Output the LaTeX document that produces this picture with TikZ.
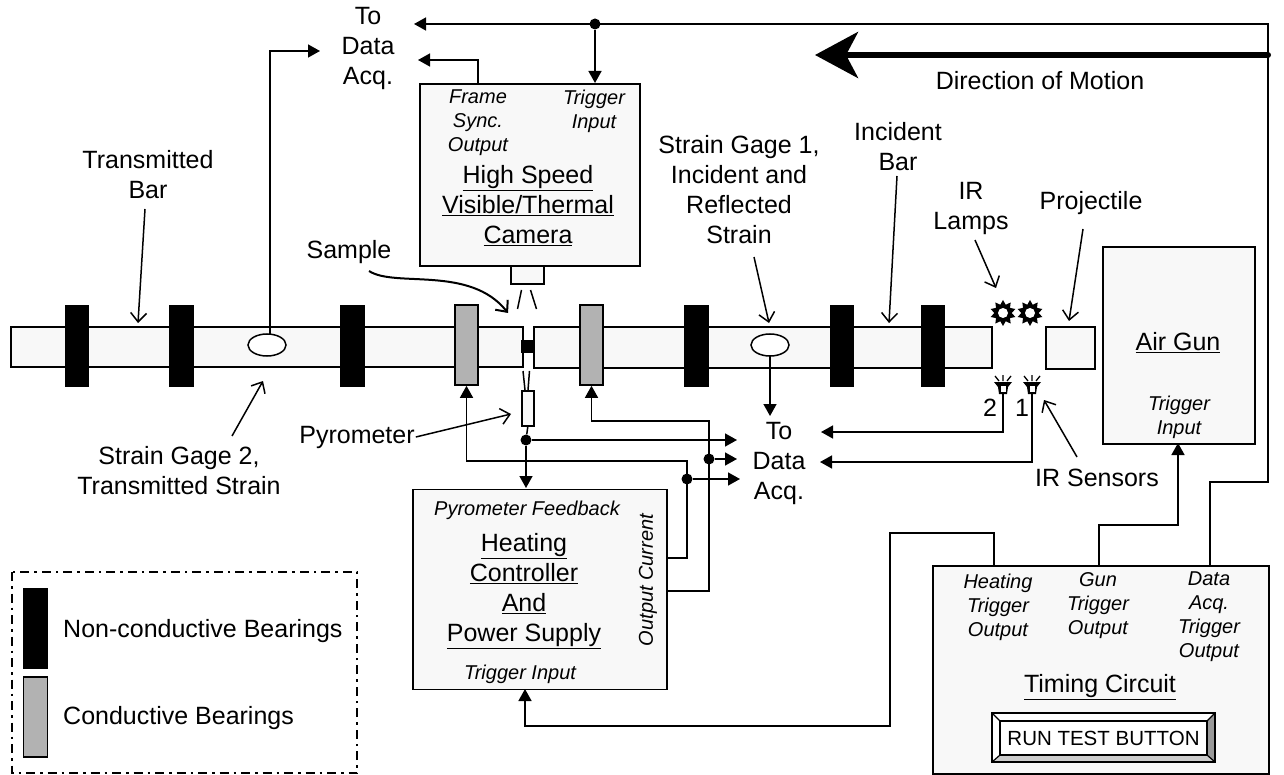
\documentclass[tikz,border=0pt]{standalone}
\usepackage{fontspec}
\setmainfont{Liberation Sans}
\usetikzlibrary{calc, arrows.meta, shapes.geometric}
\definecolor{panelFill}{RGB}{248, 248, 248}
\definecolor{condGray}{RGB}{178, 178, 178}
\definecolor{bevelDark}{RGB}{153, 153, 153}
\definecolor{bevelLight}{RGB}{204, 204, 204}

\tikzset{
  txt/.style={align=center, inner sep=1pt, font=\fontsize{25}{30}\selectfont},
  noteit/.style={align=center, inner sep=1pt, font=\fontsize{20}{24}\selectfont\itshape},
  panel/.style={draw, line width=1.6pt, fill=panelFill, anchor=north west, inner sep=0pt},
  ncbearing/.style={fill=black, minimum width=24.5pt, minimum height=81pt, inner sep=0pt},
  cbearing/.style={draw, line width=1.6pt, fill=condGray, minimum width=23pt, minimum height=80pt, inner sep=0pt},
  wire/.style={line width=1.5pt},
  wirearrow/.style={wire, -{Triangle[length=12pt,width=13pt]}},
  callout/.style={line width=1.5pt, -{Straight Barb[length=9pt,width=16pt]}},
  dot/.style={circle, fill=black, minimum size=11pt, inner sep=0pt},
}

\begin{document}
\begin{tikzpicture}[x=1pt, y=-1pt]
  \useasboundingbox (0,0) rectangle (1284,775);

  % bars
  \node[panel, minimum width=512pt, minimum height=40pt] (transBar) at (10,326) {};
  \node[panel, minimum width=458pt, minimum height=41pt] (incBar) at (533,326) {};
  \node[panel, minimum width=49pt, minimum height=42pt] (projectile) at (1045,326) {};
  \node[fill=black, minimum width=13pt, minimum height=13pt, inner sep=0pt] (sample) at (527,346) {};
  \foreach \bx/\bname in {76.75/ncA, 181.5/ncB, 352.25/ncC, 696.25/ncD, 842/ncE, 933/ncF}
    \node[ncbearing] (\bname) at (\bx,346) {};
  \node[cbearing] (condA) at (466.5,345) {};
  \node[cbearing] (condB) at (591.5,345) {};
  \draw[wire, fill=white] (267,345) ellipse (19 and 11);
  \draw[wire, fill=white] (770,345) ellipse (19 and 11);
  \coordinate (gageA) at (270,334);
  \coordinate (gageB) at (770,356);

  % boxes
  \node[panel, minimum width=220pt, minimum height=182pt] (camera) at (419,83) {};
  \node[panel, minimum width=33pt, minimum height=18pt] (lens) at (510,265) {};
  \node[panel, minimum width=12pt, minimum height=35pt] (pyro) at (521,390) {};
  \node[panel, minimum width=254pt, minimum height=200pt] (heater) at (412,488.5) {};
  \node[panel, minimum width=152pt, minimum height=197pt] (airGun) at (1102,246) {};
  \node[panel, minimum width=336pt, minimum height=208pt] (timing) at (932,565) {};

  % view lines
  \coordinate (viewA) at (521.5,290);
  \coordinate (viewB) at (517.5,309);
  \coordinate (viewC) at (530.5,290);
  \coordinate (viewD) at (536.5,309);
  \coordinate (viewE) at (523,371);
  \coordinate (viewF) at (525,390);
  \coordinate (viewG) at (529.5,371);
  \coordinate (viewH) at (528,390);
  \draw[wire] (viewA) -- (viewB);
  \draw[wire] (viewC) -- (viewD);
  \draw[wire] (viewE) -- (viewF);
  \draw[wire] (viewG) -- (viewH);

  % lamps and sensors
  \foreach \lx/\lname in {1003/lampA, 1030/lampB} {
    \node[star, star points=10, star point ratio=1.5, fill=black, minimum size=26pt, inner sep=0pt] (\lname) at (\lx,313) {};
    \node[circle, fill=white, minimum size=10pt, inner sep=0pt] at (\lname) {};
  }
  \foreach \sx/\sname in {1003/sensorB, 1032/sensorA} {
    \fill (\sx-9,382) -- (\sx+9,382) -- (\sx+5,387) -- (\sx+4,394) -- (\sx-4,394) -- (\sx-5,387) -- cycle;
    \fill[white] (\sx-2.5,386) rectangle (\sx+2.5,391.5);
    \draw[line width=1.3pt] (\sx-8,376) -- (\sx-4,381) (\sx,375) -- (\sx,381) (\sx+8,376) -- (\sx+4,381);
    \coordinate (\sname) at (\sx,394);
  }
  \node[txt] (numTwo) at (990,408) {2};
  \node[txt] (numOne) at (1022,408) {1};

  % data acquisition
  \node[txt] (acqTop) at (368,48) {To\\Data\\Acq.};
  \node[txt] (acqMid) at (779,463) {To\\Data\\Acq.};
  \coordinate (acqTopA) at (320,51);
  \coordinate (acqTopB) at (414,24);
  \coordinate (acqTopC) at (418,60);
  \coordinate (acqMidA) at (821,432);
  \coordinate (acqMidB) at (820,462);
  \coordinate (acqMidC) at (770,416);
  \coordinate (acqMidD) at (737,440);
  \coordinate (acqMidE) at (737,459);
  \coordinate (acqMidF) at (740,479);

  % trigger and signal lines
  \coordinate (camSync) at (478,83);
  \coordinate (camTrig) at (595,83);
  \coordinate (daqOut) at (1210,565);
  \coordinate (daqTurnA) at (1268,482);
  \coordinate (daqTurnB) at (1268,24);
  \coordinate (gunOut) at (1099,565);
  \coordinate (gunIn) at (1178,443);
  \coordinate (gunTurn) at (1178,525);
  \coordinate (heatOut) at (994,565);
  \coordinate (heatTurnA) at (890,533);
  \coordinate (heatTurnB) at (890,726);
  \coordinate (heatIn) at (525,689);
  \coordinate (heatTop) at (526,488);
  \coordinate (heatA) at (666,558);
  \coordinate (heatB) at (666,591);
  \coordinate (turnA) at (687,461);
  \coordinate (turnB) at (709,421);
  \node[dot] (trigDot) at (595,24) {};
  \node[dot] (pyroDot) at (526,440) {};
  \node[dot] (dotA) at (687,479) {};
  \node[dot] (dotB) at (709,459) {};

  \draw[wirearrow] (gageA) |- (acqTopA);
  \draw[wirearrow] (gageB) -- (acqMidC);
  \draw[wirearrow] (camSync) |- (acqTopC);
  \draw[wirearrow] (daqOut) |- (daqTurnA) -- (daqTurnB) -- (acqTopB);
  \draw[wirearrow] (trigDot) -- (camTrig);
  \draw[wirearrow] (gunOut) |- (gunTurn) -- (gunIn);
  \draw[wirearrow] (heatOut) |- (heatTurnA) -- (heatTurnB) -| (heatIn);
  \draw[wirearrow] (sensorB) |- (acqMidA);
  \draw[wirearrow] (sensorA) |- (acqMidB);
  \draw[wire] (pyro.south) -- (pyroDot);
  \draw[wirearrow] (pyroDot) -- (heatTop);
  \draw[wirearrow] (pyroDot) -- (acqMidD);
  \draw[wirearrow] (heatA) -| (turnA) -| (condA.south);
  \draw[wirearrow] (heatB) -| (turnB) -| (condB.south);
  \draw[wirearrow] (dotA) -- (acqMidF);
  \draw[wirearrow] (dotB) -- (acqMidE);

  % motion arrow
  \coordinate (motionA) at (1268,55);
  \coordinate (motionB) at (815,55);
  \draw[line width=6pt, line cap=round, -{Stealth[length=43pt,width=46pt,inset=12pt]}] (motionA) -- (motionB);
  \node[txt] (motionLbl) at (1040,81) {Direction of Motion};

  % callouts
  \node[txt] (transLbl) at (148,175) {Transmitted\\Bar};
  \node[txt] (gageTwoLbl) at (179,471) {Strain Gage 2,\\Transmitted Strain};
  \node[txt] (sampleLbl) at (349,252) {Sample};
  \node[txt] (pyroLbl) at (357,437) {Pyrometer};
  \node[txt] (gageOneLbl) at (739,190) {Strain Gage 1,\\Incident and\\Reflected\\Strain};
  \node[txt] (incLbl) at (898,147) {Incident\\Bar};
  \node[txt] (lampLbl) at (971,208) {IR\\Lamps};
  \node[txt] (projLbl) at (1091,203) {Projectile};
  \node[txt] (sensorLbl) at (1097,478) {IR Sensors};
  \coordinate (fromTrans) at (145,209);
  \coordinate (fromGageTwo) at (232,436);
  \coordinate (fromSample) at (369,271);
  \coordinate (fromGageOne) at (754,257);
  \coordinate (fromInc) at (897,176);
  \coordinate (fromLamp) at (975,240);
  \coordinate (fromProj) at (1083,229);
  \coordinate (fromSensor) at (1077,457);
  \coordinate (tipTrans) at (138,323);
  \coordinate (tipGage) at (263,381);
  \coordinate (tipSample) at (508,313);
  \coordinate (tipPyro) at (511,414);
  \coordinate (tipGageOne) at (769,323);
  \coordinate (tipInc) at (889,323);
  \coordinate (tipLamp) at (996,288);
  \coordinate (tipProj) at (1069,321);
  \coordinate (tipSensor) at (1044,400);
  \draw[callout] (fromTrans) -- (tipTrans);
  \draw[callout] (fromGageTwo) -- (tipGage);
  \draw[callout, line width=2pt] (fromSample) .. controls (395,288) and (470,265) .. (tipSample);
  \draw[callout] (pyroLbl.east) -- (tipPyro);
  \draw[callout] (fromGageOne) -- (tipGageOne);
  \draw[callout] (fromInc) -- (tipInc);
  \draw[callout] (fromLamp) -- (tipLamp);
  \draw[callout] (fromProj) -- (tipProj);
  \draw[callout] (fromSensor) -- (tipSensor);

  % camera text
  \node[noteit] (camFrame) at (478,123) {Frame\\Sync.\\Output};
  \node[noteit] (camInput) at (594,111) {Trigger\\Input};
  \node[txt] (camName) at (528,206) {\underline{High Speed}\\\underline{Visible/Thermal}\\\underline{Camera}};

  % heater text
  \node[noteit] (heatFb) at (527,510) {Pyrometer Feedback};
  \node[txt] (heatName) at (524,591) {\underline{Heating}\\\underline{Controller}\\\underline{And}\\\underline{Power Supply}};
  \node[noteit] (heatInput) at (520,674) {Trigger Input};
  \node[noteit, rotate=90] (heatCur) at (648,580) {Output Current};

  % air gun text
  \node[txt] (gunName) at (1178,343) {\underline{Air Gun}};
  \node[noteit] (gunInput) at (1179,417) {Trigger\\Input};

  % timing text
  \node[noteit] (timeHeat) at (998,607) {Heating\\Trigger\\Output};
  \node[noteit] (timeGun) at (1098,606) {Gun\\Trigger\\Output};
  \node[noteit] (timeDaq) at (1209,617) {Data\\Acq.\\Trigger\\Output};
  \node[txt] (timeName) at (1100,687) {\underline{Timing Circuit}};

  % button
  \fill[bevelLight] (992,713) rectangle (1215,762);
  \fill[white] (992,713) -- (1215,713) -- (1207,721) -- (1000,721) -- (1000,755) -- (992,762) -- cycle;
  \fill[bevelDark] (1215,713) -- (1215,762) -- (1207,755) -- (1207,721) -- cycle;
  \draw[line width=2.2pt] (992,713) rectangle (1215,762);
  \draw[line width=1.2pt] (992,713) -- (1000,721) (1215,713) -- (1207,721) (992,762) -- (1000,755) (1215,762) -- (1207,755);
  \node[draw, line width=2.2pt, fill=white, minimum width=207pt, minimum height=34pt, inner sep=0pt, font=\fontsize{20.5}{24}\selectfont] (runBtn) at (1103.5,738) {RUN TEST BUTTON};

  % legend
  \draw[line width=1.5pt, dash pattern=on 9pt off 5pt on 2.5pt off 5pt] (12,572) rectangle (357,773);
  \node[fill=black, minimum width=25pt, minimum height=81pt, inner sep=0pt] (legendNc) at (35.5,628) {};
  \node[draw, line width=1.5pt, fill=condGray, minimum width=24pt, minimum height=80pt, inner sep=0pt] (legendC) at (35.5,717) {};
  \node[txt, right] (legendNcLbl) at (62,631) {Non-conductive Bearings};
  \node[txt, right] (legendCLbl) at (62,718) {Conductive Bearings};
\end{tikzpicture}
\end{document}
